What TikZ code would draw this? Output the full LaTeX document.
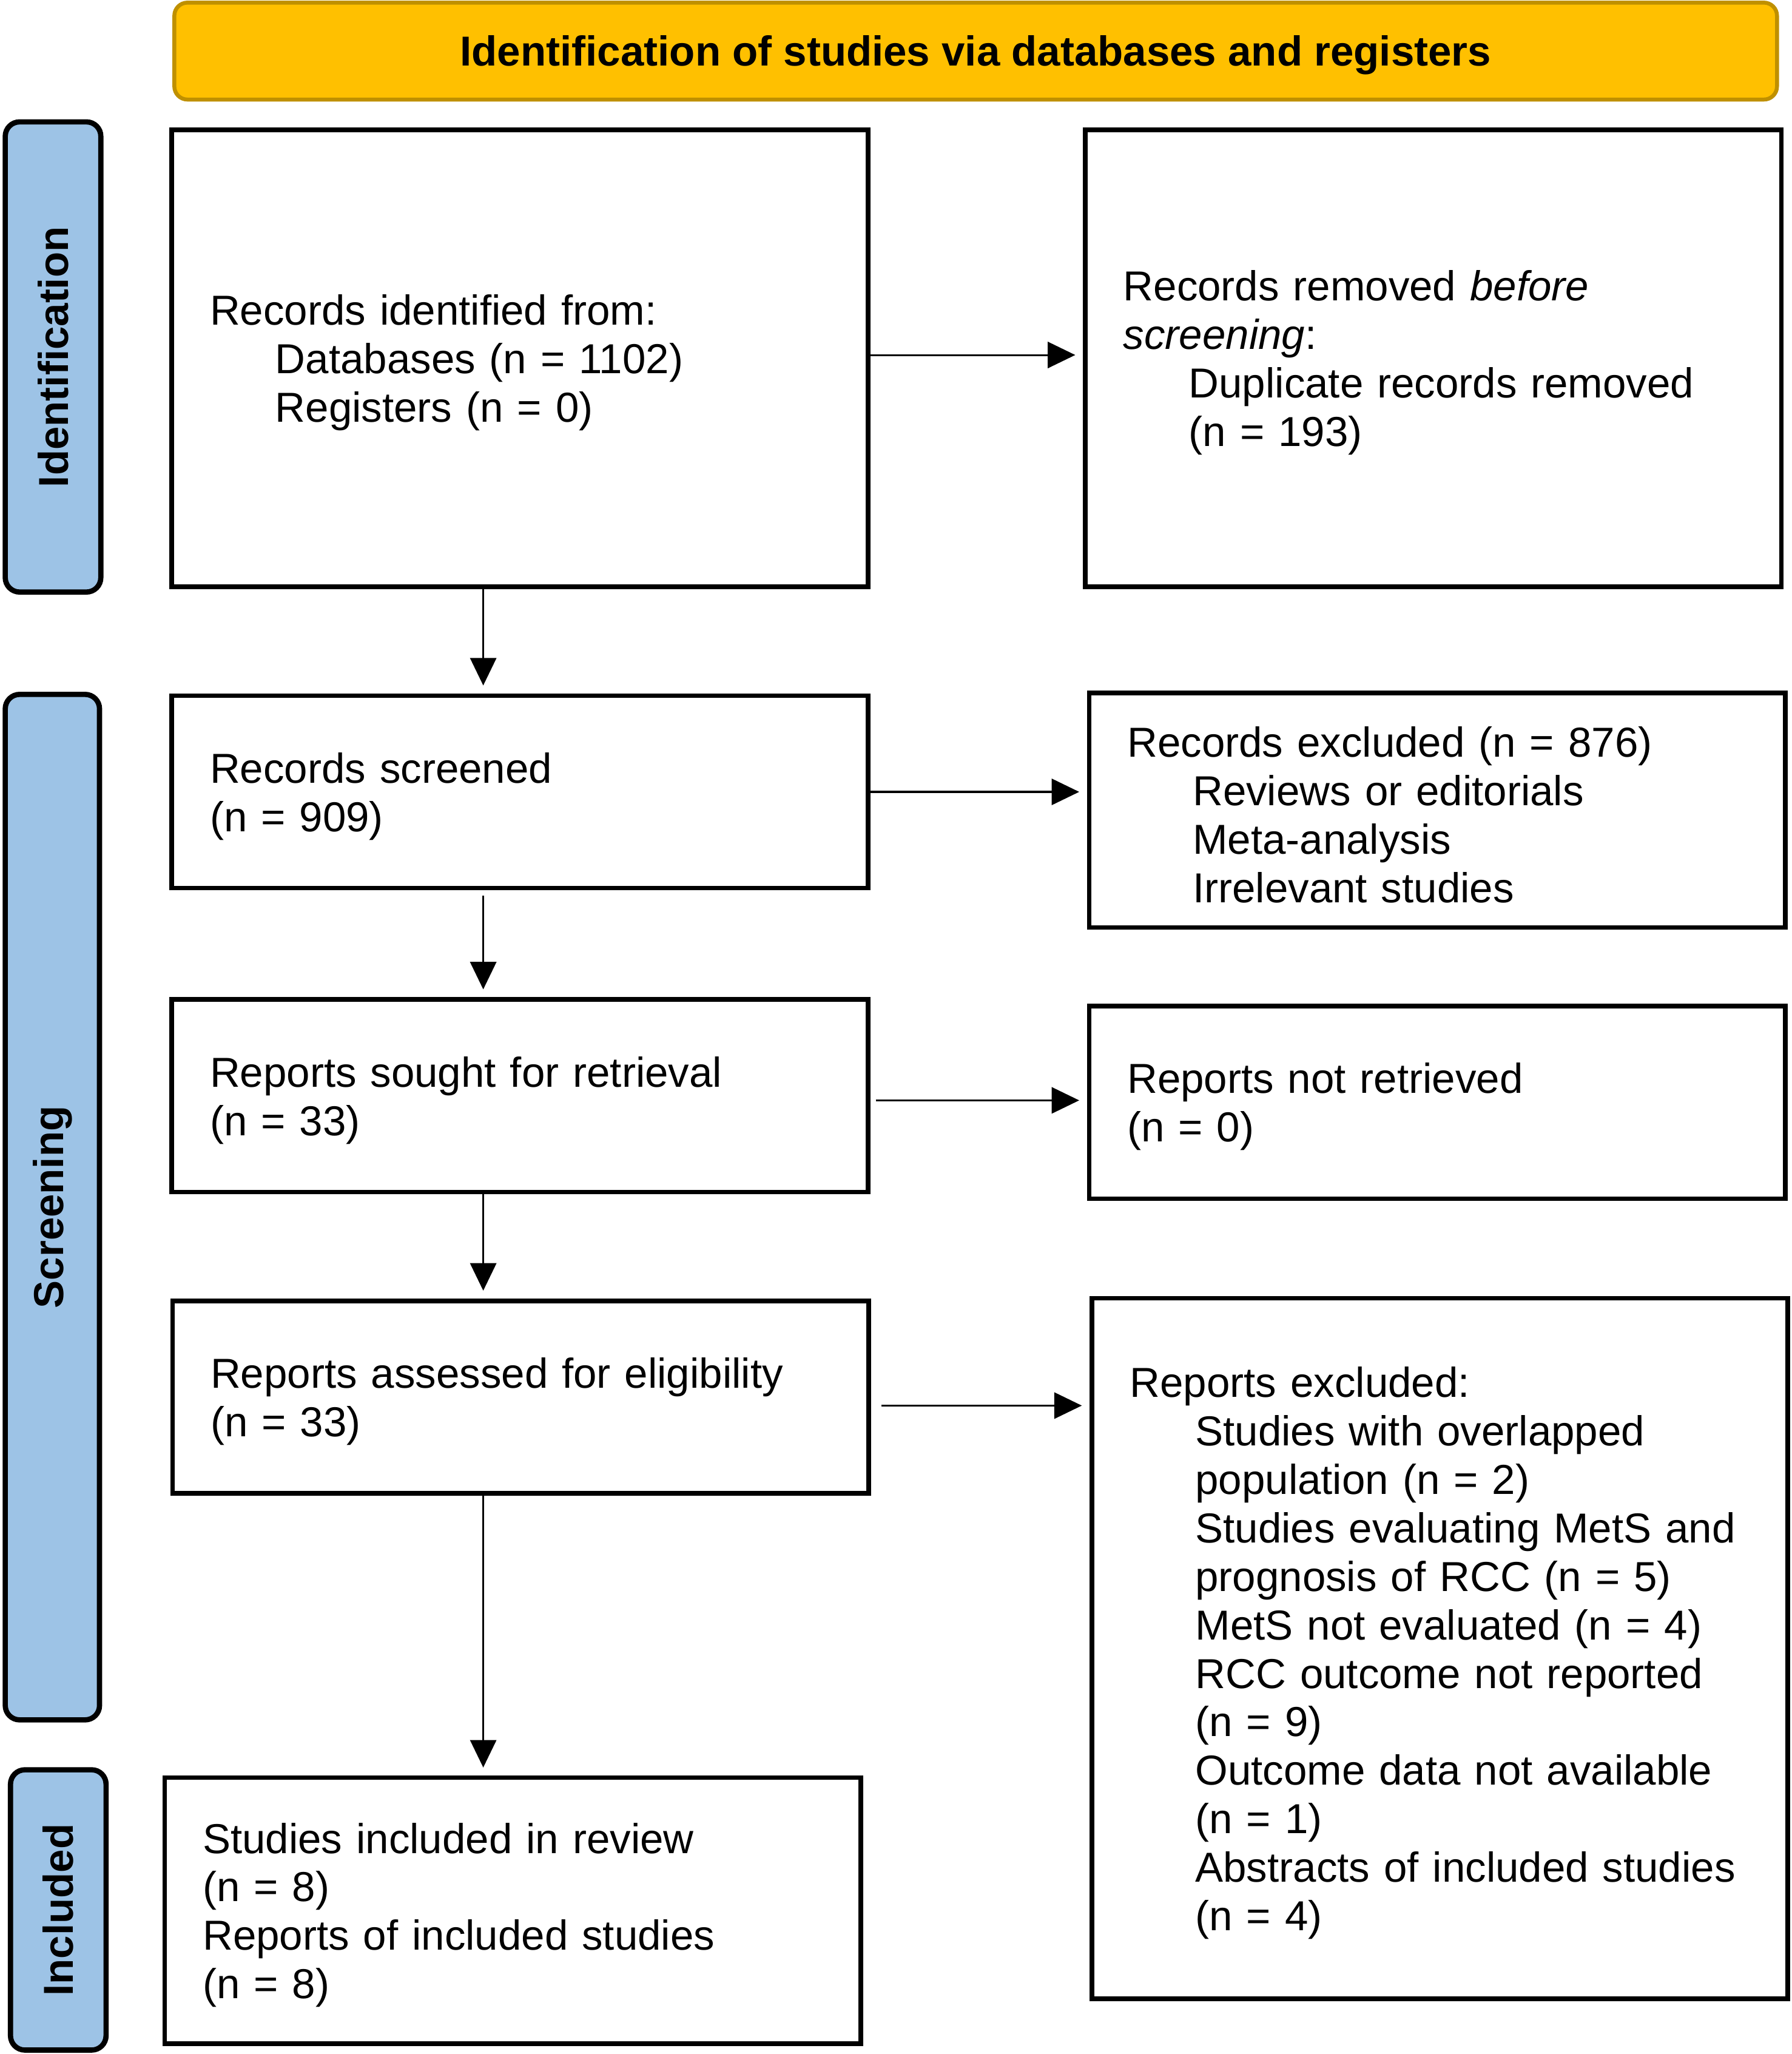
\documentclass[tikz,border=0pt]{standalone}
\usepackage{fontspec}
\setmainfont{Liberation Sans}
\usetikzlibrary{arrows.meta,calc}
\definecolor{hdrfill}{HTML}{FFC000}
\definecolor{hdrline}{HTML}{BF9000}
\definecolor{barfill}{HTML}{9DC3E6}
\newcommand{\ind}{\hspace*{1.0cm}}
\newcommand{\tstrut}{\rule{0pt}{0.6cm}}
\begin{document}
\begin{tikzpicture}[x=0.02cm,y=-0.02cm,
  every node/.style={font=\fontsize{18.2pt}{21.05pt}\selectfont},
  box/.style={draw=black, line width=0.07cm, fill=white, align=left,
    text width=9.47cm, inner xsep=0.58cm, inner ysep=0pt, anchor=center},
  hdr/.style={draw=hdrline, fill=hdrfill, line width=0.06cm, rounded corners=0.2cm,
    font=\fontsize{18.2pt}{21.05pt}\selectfont\bfseries, inner sep=0pt,
    text height=0.6cm, text depth=0.146cm},
  sidebar/.style={draw=black, fill=barfill, line width=0.08cm, rounded corners=0.22cm,
    rotate=90, font=\fontsize{18.2pt}{21.05pt}\selectfont\bfseries, inner sep=0pt},
  arr/.style={line width=0.028cm, -{Triangle[length=0.42cm,width=0.4cm]}, shorten >=0.12cm}]
\useasboundingbox (0,0) rectangle (1368,1568);

% header
\node[hdr, minimum width=24.48cm, minimum height=1.48cm] (hdr) at (745,39)
  {Identification of studies via databases and registers};

% side bars
\node[sidebar, minimum width=7.18cm, minimum height=1.46cm] (idbar) at (40.5,272.5) {Identification};
\node[sidebar, minimum width=15.66cm, minimum height=1.44cm] (scbar) at (40,921.5) {Screening};
\node[sidebar, minimum width=4.28cm, minimum height=1.46cm] (inbar) at (44.5,1458) {Included};

% left column
\node[box, minimum width=10.64cm, minimum height=6.98cm] (B1) at (397,273.5)
  {\tstrut Records identified from:\\ \ind Databases (n = 1102)\\ \ind Registers (n = 0)};
\node[box, minimum width=10.64cm, minimum height=2.94cm] (B2) at (397,604.5)
  {\tstrut Records screened\\ (n = 909)};
\node[box, minimum width=10.64cm, minimum height=2.94cm] (B3) at (397,836.5)
  {\tstrut Reports sought for retrieval\\ (n = 33)};
\node[box, minimum width=10.62cm, minimum height=2.94cm] (B4) at (397.5,1066.5)
  {\tstrut Reports assessed for eligibility\\ (n = 33)};
\node[box, minimum width=10.62cm, minimum height=4.06cm] (B5) at (391.5,1458.5)
  {\tstrut Studies included in review\\ (n = 8)\\ Reports of included studies\\ (n = 8)};

% right column
\node[box, minimum width=10.62cm, minimum height=6.98cm] (R1) at (1094.5,273.5)
  {\tstrut Records removed \textit{before}\\ \textit{screening}:\\ \ind Duplicate records removed\\ \ind (n = 193)};
\node[box, minimum width=10.62cm, minimum height=3.58cm] (R2) at (1097.5,618.5)
  {\tstrut Records excluded (n = 876)\\ \ind Reviews or editorials\\ \ind Meta-analysis\\ \ind Irrelevant studies};
\node[box, minimum width=10.62cm, minimum height=2.94cm] (R3) at (1097.5,841.5)
  {\tstrut Reports not retrieved\\ (n = 0)};
\node[box, minimum width=10.62cm, minimum height=10.7cm] (R4) at (1099.5,1258.5)
  {\tstrut Reports excluded:\\ \ind Studies with overlapped\\ \ind population (n = 2)\\
   \ind Studies evaluating MetS and\\ \ind prognosis of RCC (n = 5)\\
   \ind MetS not evaluated (n = 4)\\ \ind RCC outcome not reported\\ \ind (n = 9)\\
   \ind Outcome data not available\\ \ind (n = 1)\\ \ind Abstracts of included studies\\ \ind (n = 4)};

% connectors
\coordinate (spine) at (369,0);
\draw[arr] ([yshift=0.05cm]B1.east) -- ([yshift=0.05cm]B1.east -| R1.west);
\draw[arr] (B2.east) -- (B2.east -| R2.west);
\draw[arr] ([xshift=0.08cm,yshift=-0.07cm]B3.east) -- ([yshift=-0.07cm]B3.east -| R3.west);
\draw[arr] ([xshift=0.16cm,yshift=-0.13cm]B4.east) -- ([yshift=-0.13cm]B4.east -| R4.west);
\draw[arr] (B1.south -| spine) -- (B2.north -| spine);
\draw[arr, shorten <=0.08cm] (B2.south -| spine) -- (B3.north -| spine);
\draw[arr] (B3.south -| spine) -- (B4.north -| spine);
\draw[arr] (B4.south -| spine) -- (B5.north -| spine);
\end{tikzpicture}
\end{document}
